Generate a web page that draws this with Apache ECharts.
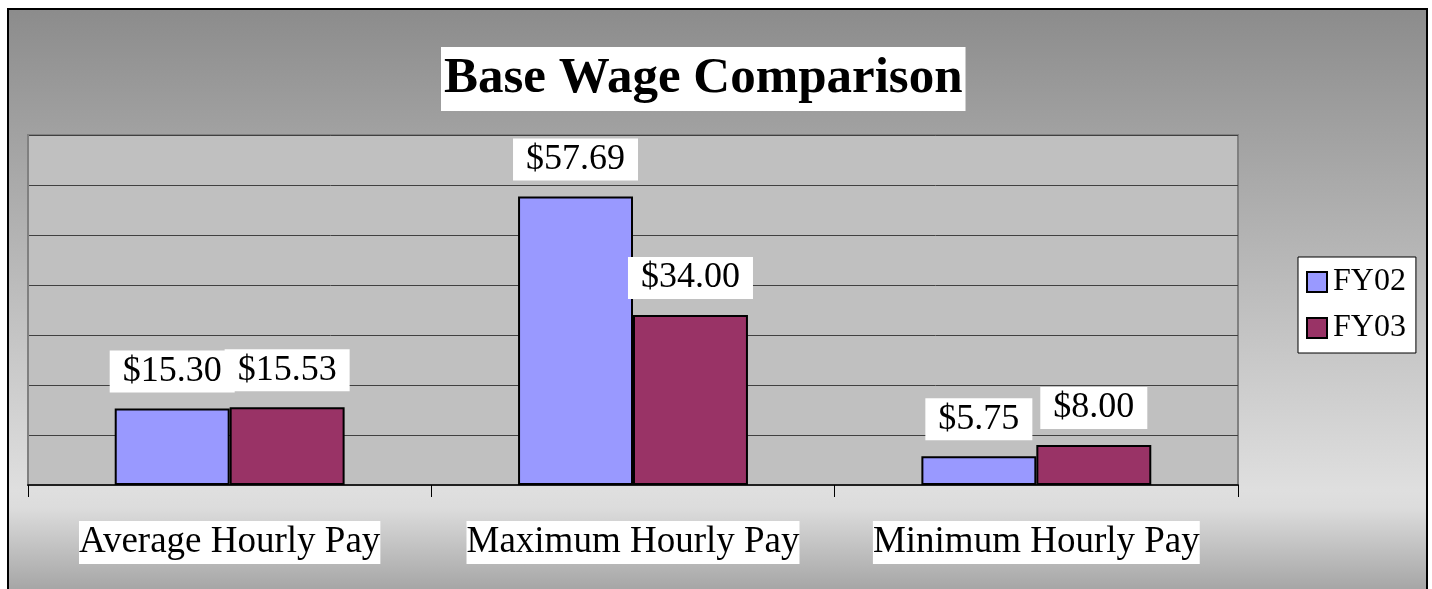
<!DOCTYPE html>
<html>
<head>
<meta charset="utf-8">
<script src="https://cdn.jsdelivr.net/npm/echarts@6/dist/echarts.min.js"></script>
<style>
  html, body { margin: 0; padding: 0; background: #fff; overflow: hidden; }
  #chart {
    position: absolute; left: 7px; top: 8px;
    width: 1417px; height: 600px;
    border: 2px solid #000;
  }
</style>
</head>
<body>
<div id="chart"></div>
<script>
const categories = ['Average Hourly Pay', 'Maximum Hourly Pay', 'Minimum Hourly Pay'];
const fy02 = [15.30, 57.69, 5.75];
const fy03 = [15.53, 34.00, 8.00];
const seriesNames = ['FY02', 'FY03'];

const serif = 'Liberation Serif, Times New Roman, serif';

const money = p => '$' + p.value.toFixed(2);

const barLabel = {
  show: true,
  position: 'top',
  distance: 16,
  formatter: money,
  fontFamily: serif,
  fontSize: 36,
  color: '#000',
  backgroundColor: '#fff',
  padding: [3, 13]
};

const chartDom = document.getElementById('chart');
const myChart = echarts.init(chartDom);

const option = {
  animation: false,
  backgroundColor: {
    type: 'linear', x: 0, y: 0, x2: 0, y2: 1,
    colorStops: [
      { offset: 0, color: '#8c8c8c' },
      { offset: 0.8, color: '#dfdfdf' },
      { offset: 0.83, color: '#dcdcdc' },
      { offset: 0.965, color: '#a6a6a6' },
      { offset: 1, color: '#a2a2a2' }
    ]
  },
  title: {
    text: 'Base Wage Comparison',
    left: 432,
    top: 37,
    backgroundColor: '#fff',
    padding: [6, 3, 7, 3],
    textStyle: {
      fontFamily: serif,
      fontWeight: 'bold',
      fontSize: 51,
      color: '#000'
    }
  },
  legend: {
    data: seriesNames,
    orient: 'vertical',
    left: 1289,
    top: 247,
    backgroundColor: '#fff',
    borderColor: '#000',
    borderWidth: 1,
    padding: [9, 10, 9, 8],
    itemGap: 14,
    itemWidth: 20,
    itemHeight: 20,
    icon: 'rect',
    itemStyle: { borderColor: '#000', borderWidth: 2 },
    textStyle: { fontFamily: serif, fontSize: 32, color: '#000', padding: [0, 0, 0, 1] }
  },
  grid: {
    show: true,
    left: 19,
    top: 125,
    width: 1210,
    height: 350,
    backgroundColor: '#c0c0c0',
    borderColor: '#808080',
    borderWidth: 2
  },
  xAxis: {
    type: 'category',
    data: categories,
    axisLine: { lineStyle: { color: '#202020', width: 2 } },
    axisTick: { show: true, interval: 0, length: 12, lineStyle: { color: '#000', width: 1 } },
    axisLabel: {
      interval: 0,
      hideOverlap: false,
      fontFamily: serif,
      fontSize: 37,
      color: '#000',
      backgroundColor: '#fff',
      padding: [3, 0],
      margin: 36
    }
  },
  yAxis: {
    type: 'value',
    min: 0,
    max: 70,
    interval: 10,
    axisLabel: { show: false },
    axisLine: { show: true, lineStyle: { color: '#808080', width: 2 } },
    axisTick: { show: false },
    splitLine: { lineStyle: { color: '#404040', width: 1 } }
  },
  series: [
    {
      name: seriesNames[0],
      type: 'bar',
      data: fy02,
      barGap: '0%',
      barCategoryGap: '43%',
      itemStyle: { color: '#9999ff', borderColor: '#000', borderWidth: 2 },
      label: barLabel
    },
    {
      name: seriesNames[1],
      type: 'bar',
      data: fy03,
      itemStyle: { color: '#993366', borderColor: '#000', borderWidth: 2 },
      label: barLabel
    }
  ]
};

myChart.setOption(option);
</script>
</body>
</html>
